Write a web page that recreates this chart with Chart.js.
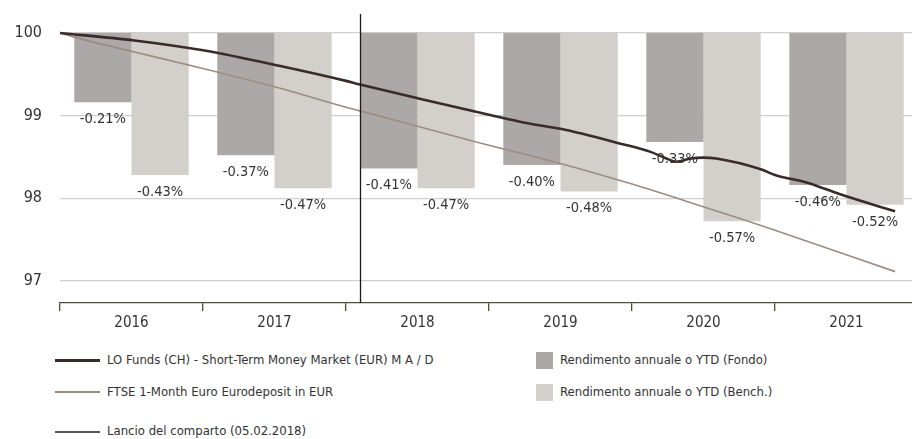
<!DOCTYPE html>
<html>
<head>
<meta charset="utf-8">
<script src="https://cdn.jsdelivr.net/npm/chart.js@4/dist/chart.umd.min.js"></script>
<style>
  html, body { margin:0; padding:0; background:#fff; overflow:hidden; width:912px; height:439px; }
  #wrap { position:absolute; left:0; top:0; width:918px; height:335px; }
  .lg { position:absolute; font-family:"DejaVu Sans Condensed","Liberation Sans Narrow",sans-serif; font-size:13px; color:#333; white-space:nowrap; line-height:16px; }
  .sw-line { position:absolute; height:0; }
  .sw-box { position:absolute; width:17px; height:17px; }
</style>
</head>
<body>
<div id="wrap"><canvas id="c" width="918" height="335"></canvas></div>

<div class="sw-line" style="left:55px; top:359px; width:45px; border-top:3px solid #3a2b2b;"></div>
<div class="lg" style="left:107px; top:352px;">LO Funds (CH) - Short-Term Money Market (EUR) M A / D</div>
<div class="sw-line" style="left:55px; top:391px; width:45px; border-top:2px solid #9b8d82;"></div>
<div class="lg" style="left:107px; top:384px;">FTSE 1-Month Euro Eurodeposit in EUR</div>
<div class="sw-line" style="left:55px; top:431px; width:45px; border-top:2px solid #555;"></div>
<div class="lg" style="left:107px; top:423px;">Lancio del comparto (05.02.2018)</div>

<div class="sw-box" style="left:536px; top:352px; background:#aca8a7;"></div>
<div class="lg" style="left:560px; top:352px;">Rendimento annuale o YTD (Fondo)</div>
<div class="sw-box" style="left:536px; top:384px; background:#d3cfcb;"></div>
<div class="lg" style="left:560px; top:384px;">Rendimento annuale o YTD (Bench.)</div>

<script>
// ---- data ----
const categories = ['2016', '2017', '2018', '2019', '2020', '2021'];
const fundReturns  = [-0.21, -0.37, -0.41, -0.40, -0.33, -0.46];
const benchReturns = [-0.43, -0.47, -0.47, -0.48, -0.57, -0.52];
const returnLabels = (v) => v.toFixed(2) + '%';

const fundTimes  = [2016.00, 2016.52, 2017.00, 2017.54, 2018.00, 2018.09, 2018.50, 2019.00, 2019.26, 2019.50, 2019.92, 2020.13, 2020.24, 2020.31, 2020.41, 2020.50, 2020.59, 2020.90, 2021.00, 2021.22, 2021.45, 2021.84];
const fundValues = [100.00, 99.91, 99.79, 99.60, 99.42, 99.38, 99.21, 99.01, 98.91, 98.84, 98.66, 98.56, 98.48, 98.44, 98.48, 98.49, 98.48, 98.35, 98.28, 98.19, 98.05, 97.84];

const benchTimes  = [2016.00, 2016.10, 2016.52, 2017.00, 2017.54, 2018.00, 2018.09, 2018.91, 2019.00, 2019.50, 2020.00, 2020.51, 2020.76, 2021.00, 2021.84];
const benchValues = [100.00, 99.95, 99.77, 99.57, 99.33, 99.10, 99.06, 98.68, 98.64, 98.42, 98.17, 97.89, 97.75, 97.61, 97.11];

const yTicks = [97, 98, 99, 100];
const launchDate = 2018.096; // 05.02.2018
const Y_MIN = 96.73, Y_MAX = 100.23;
const BAR_SCALE = 4; // 1% return = 4 index points

const FONT = '"DejaVu Sans Condensed","Liberation Sans Narrow",sans-serif';

const fundSeries  = fundTimes.map((t, i) => ({ x: t, y: fundValues[i] }));
const benchSeries = benchTimes.map((t, i) => ({ x: t, y: benchValues[i] }));

const barLabelPlugin = {
  id: 'barLabels',
  afterDatasetDraw(chart, args) {
    const ds = chart.data.datasets[args.index];
    if (ds.type !== 'bar') return;
    const ctx = chart.ctx;
    ctx.save();
    ctx.font = '14.5px ' + FONT;
    ctx.fillStyle = '#333';
    ctx.textAlign = 'center';
    ctx.textBaseline = 'middle';
    args.meta.data.forEach((el, i) => {
      ctx.fillText(returnLabels(ds.data[i]), el.x, el.y + 17);
    });
    ctx.restore();
  }
};

const launchPlugin = {
  id: 'launch',
  afterDatasetsDraw(chart) {
    const x = Math.round(chart.scales.x2.getPixelForValue(launchDate)) + 0.5;
    const ctx = chart.ctx;
    ctx.save();
    ctx.strokeStyle = '#1a1a1a';
    ctx.lineWidth = 1.3;
    ctx.beginPath();
    ctx.moveTo(x, chart.chartArea.top);
    ctx.lineTo(x, chart.chartArea.bottom);
    ctx.stroke();
    ctx.restore();
  }
};

new Chart(document.getElementById('c'), {
  type: 'bar',
  data: {
    labels: categories,
    datasets: [
      { type: 'line', label: 'LO Funds (CH) - Short-Term Money Market (EUR) M A / D', data: fundSeries,
        xAxisID: 'x2', yAxisID: 'y', borderColor: '#3a2b2b', borderWidth: 2.6, pointRadius: 0,
        cubicInterpolationMode: 'monotone', order: 1 },
      { type: 'line', label: 'FTSE 1-Month Euro Eurodeposit in EUR', data: benchSeries,
        xAxisID: 'x2', yAxisID: 'y', borderColor: '#9b8d82', borderWidth: 1.6, pointRadius: 0,
        cubicInterpolationMode: 'monotone', order: 2 },
      { type: 'bar', label: 'Rendimento annuale o YTD (Fondo)', data: fundReturns,
        xAxisID: 'x', yAxisID: 'y2', backgroundColor: '#aca8a7', categoryPercentage: 1.6, barPercentage: 1.0, order: 3 },
      { type: 'bar', label: 'Rendimento annuale o YTD (Bench.)', data: benchReturns,
        xAxisID: 'x', yAxisID: 'y2', backgroundColor: '#d3cfcb', categoryPercentage: 1.6, barPercentage: 1.0, order: 4 }
    ]
  },
  options: {
    responsive: false,
    animation: false,
    devicePixelRatio: 1,
    layout: { padding: { top: 14, right: 0, bottom: 0, left: 0 } },
    plugins: { legend: { display: false }, tooltip: { enabled: false } },
    scales: {
      x: {
        type: 'category', offset: true,
        grid: { display: true, offset: true, drawOnChartArea: false, drawTicks: true, tickLength: 8, color: '#4d4d3d', lineWidth: 1.3 },
        border: { display: true, color: '#4d4d3d', width: 1.3 },
        ticks: { color: '#333', font: { family: FONT, size: 15 }, padding: 3, maxRotation: 0 }
      },
      x2: { type: 'linear', display: false, offset: false, min: 2016, max: 2022 },
      y: {
        type: 'linear', position: 'left', min: Y_MIN, max: Y_MAX,
        afterBuildTicks(scale) { scale.ticks = yTicks.map(v => ({ value: v })); },
        afterFit(scale) { scale.width = 60; scale.paddingTop = 0; scale.paddingBottom = 0; },
        grid: { color: '#cfcfcf', lineWidth: 1.2, drawTicks: false },
        border: { display: false },
        ticks: { color: '#333', font: { family: FONT, size: 16 }, padding: 18 }
      },
      y2: {
        type: 'linear', display: false,
        min: (Y_MIN - 100) / BAR_SCALE, max: (Y_MAX - 100) / BAR_SCALE,
        grid: { display: false }
      }
    }
  },
  plugins: [barLabelPlugin, launchPlugin]
});
</script>
</body>
</html>
